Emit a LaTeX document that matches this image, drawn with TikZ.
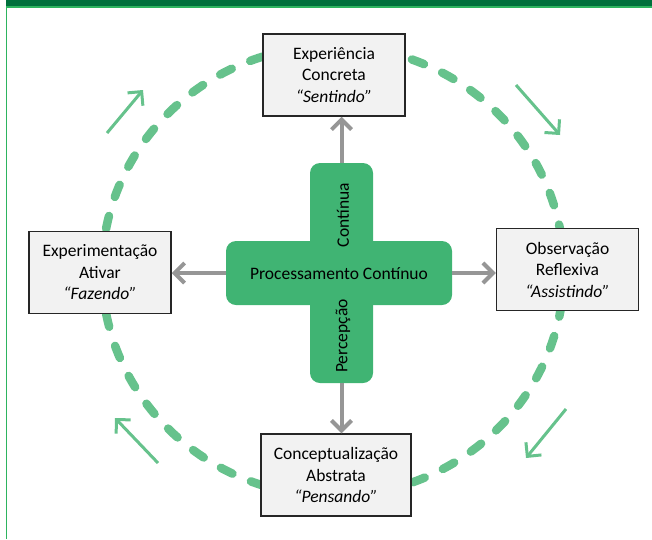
\documentclass[tikz,border=0pt]{standalone}
\usepackage{fontspec}
\setmainfont{Carlito}
\usetikzlibrary{arrows.meta}
\definecolor{darkbar}{RGB}{0,112,60}
\definecolor{lightline}{RGB}{45,180,95}
\definecolor{crossgreen}{RGB}{64,180,115}
\definecolor{ringgreen}{RGB}{102,194,140}
\definecolor{arrowgray}{RGB}{150,150,150}
\definecolor{boxfill}{RGB}{242,242,242}
\tikzset{>={Straight Barb[length=10pt,width=20pt]}}

\begin{document}
\begin{tikzpicture} [x=1pt,y=-1pt,font=\fontsize{17.5}{21.5}\selectfont]

\tikzstyle{stage}=[draw=black!85,line width=1.5pt,fill=boxfill,align=center,
  minimum width=142pt,minimum height=82pt,inner xsep=13pt]
\tikzstyle{bar}=[fill=crossgreen,rounded corners=10pt,inner sep=0pt]
\tikzstyle{ring}=[ringgreen,line width=8.5pt,line cap=round,dash pattern=on 13pt off 20pt]
\tikzstyle{flow}=[->,arrowgray,line width=4pt]
\tikzstyle{turn}=[->,ringgreen,line width=3pt]

 \useasboundingbox (0,0) rectangle (652,539);

 % frame
 \fill[darkbar] (6,0) rectangle (652,6.5);
 \draw[lightline,line width=1.5pt] (6.5,539) -- (6.5,7) -- (652,7);

 % cycle
 \coordinate (o) at (333,271);
 \draw[ring] (o) ellipse [x radius=231,y radius=225];

 % cross
 \node[bar,minimum width=63pt,minimum height=220pt] (v) at (341.5,273) {};
 \node[bar,minimum width=226pt,minimum height=64pt] (h) at (339,273) {};
 \node (pc) at (339,274) {Processamento Contínuo};
 \node[rotate=90] (cont) at (343,215) {Contínua};
 \node[rotate=90] (perc) at (343,336) {Percepção};

 % stages
 \node[stage] (ec) at (334,75) {Experiência\\Concreta\\\textit{“Sentindo”}};
 \node[stage] (or) at (567.5,269.5) {Observação\\Reflexiva\\\textit{“Assistindo”}};
 \node[stage] (ca) at (336,475) {Conceptualização\\Abstrata\\\textit{“Pensando”}};
 \node[stage] (ea) at (100,272.5) {Experimentação\\Ativar\\\textit{“Fazendo”}};

 \draw[flow] (v.north) -- (v.north |- ec.south);
 \draw[flow] (h.east) -- (h.east -| or.west);
 \draw[flow] (v.south) -- (v.south |- ca.north);
 \draw[flow] (h.west) -- (h.west -| ea.east);

 % direction of the cycle
 \coordinate (a1) at (107,133); \coordinate (b1) at (143,90);
 \coordinate (a2) at (516,85);  \coordinate (b2) at (560,135);
 \coordinate (a3) at (566,409); \coordinate (b3) at (526,458);
 \coordinate (a4) at (158,463); \coordinate (b4) at (115,418);
 \draw[turn] (a1) -- (b1);
 \draw[turn] (a2) -- (b2);
 \draw[turn] (a3) -- (b3);
 \draw[turn] (a4) -- (b4);
\end{tikzpicture}
\end{document}
